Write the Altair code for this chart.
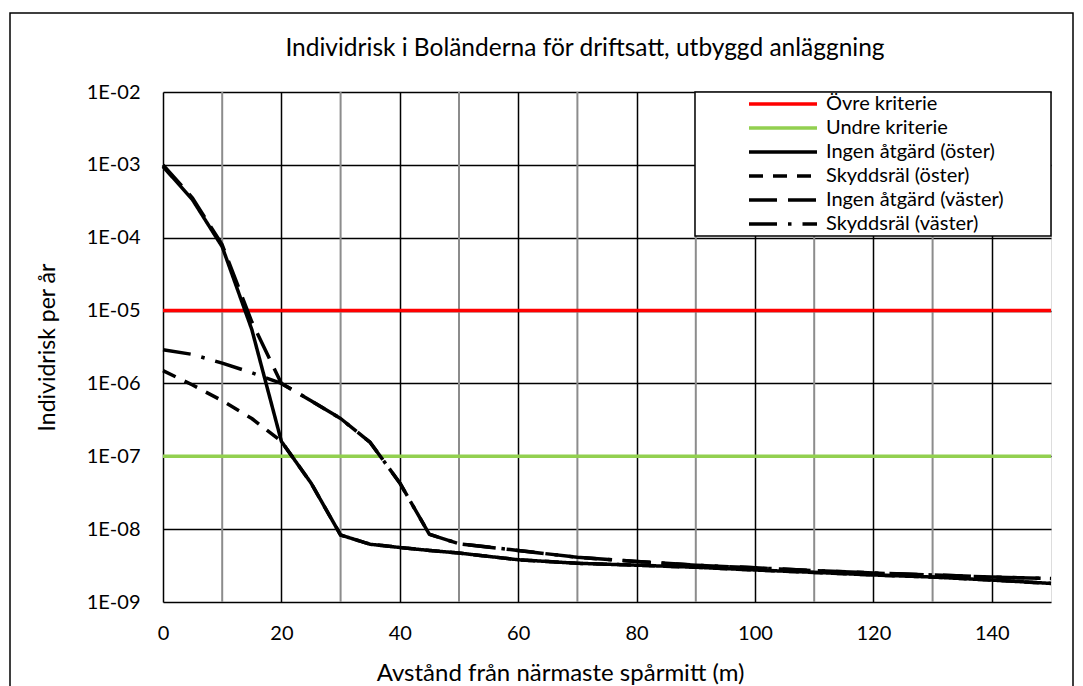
import altair as alt
import pandas as pd

# ---- data ----
x_dist = [0, 5, 10, 15, 20, 25, 30, 35, 40, 45, 50, 60, 70, 80, 90, 100, 110, 120, 130, 140, 150]

ingen_oster = [9.5e-4, 3.3e-4, 7.5e-5, 5.5e-6, 1.6e-7, 4.3e-8, 8.3e-9, 6.2e-9, 5.6e-9, 5.1e-9, 4.7e-9,
               3.8e-9, 3.4e-9, 3.2e-9, 3.0e-9, 2.75e-9, 2.55e-9, 2.35e-9, 2.2e-9, 2.0e-9, 1.8e-9]
skydd_oster = [1.5e-6, 9.5e-7, 5.8e-7, 3.3e-7, 1.6e-7, 4.3e-8, 8.3e-9, 6.2e-9, 5.6e-9, 5.1e-9, 4.7e-9,
               3.8e-9, 3.4e-9, 3.2e-9, 3.0e-9, 2.75e-9, 2.55e-9, 2.35e-9, 2.2e-9, 2.0e-9, 1.8e-9]
ingen_vaster = [1.0e-3, 3.5e-4, 8.0e-5, 7.0e-6, 1.0e-6, 5.8e-7, 3.3e-7, 1.55e-7, 4.3e-8, 8.5e-9, 6.3e-9,
                5.1e-9, 4.1e-9, 3.6e-9, 3.2e-9, 2.95e-9, 2.7e-9, 2.5e-9, 2.35e-9, 2.2e-9, 2.1e-9]
skydd_vaster = [2.9e-6, 2.5e-6, 1.9e-6, 1.4e-6, 1.0e-6, 5.8e-7, 3.3e-7, 1.55e-7, 4.3e-8, 8.5e-9, 6.3e-9,
                5.1e-9, 4.1e-9, 3.6e-9, 3.2e-9, 2.95e-9, 2.7e-9, 2.5e-9, 2.35e-9, 2.2e-9, 2.1e-9]

crit_x = [0, 150]
ovre_kriterie = [1e-5, 1e-5]
undre_kriterie = [1e-7, 1e-7]

series_names = ["Övre kriterie", "Undre kriterie", "Ingen åtgärd (öster)",
                "Skyddsräl (öster)", "Ingen åtgärd (väster)", "Skyddsräl (väster)"]
series_colors = ["#FF0000", "#92D050", "#000000", "#000000", "#000000", "#000000"]
series_dashes = [[1, 0], [1, 0], [1, 0], [14, 10], [28, 11], [28, 11, 3.5, 11]]

x_tick_values = [0, 20, 40, 60, 80, 100, 120, 140]
x_minor_grid = [10, 30, 50, 70, 90, 110, 130]
y_tick_values = [1e-9, 1e-8, 1e-7, 1e-6, 1e-5, 1e-4, 1e-3, 1e-2]

title_text = "Individrisk i Boländerna för driftsatt, utbyggd anläggning"
x_title = "Avstånd från närmaste spårmitt (m)"
y_title = "Individrisk per år"

# ---- tables ----
rows = []
for name, xs, ys in [
    (series_names[0], crit_x, ovre_kriterie),
    (series_names[1], crit_x, undre_kriterie),
    (series_names[2], x_dist, ingen_oster),
    (series_names[3], x_dist, skydd_oster),
    (series_names[4], x_dist, ingen_vaster),
    (series_names[5], x_dist, skydd_vaster),
]:
    for xv, yv in zip(xs, ys):
        rows.append({"x": xv, "risk": yv, "serie": name})
df = pd.DataFrame(rows)
grid_df = pd.DataFrame({"x": x_minor_grid})

FONT = "Lato"

x_enc = alt.X(
    "x:Q",
    scale=alt.Scale(domain=[0, 150], nice=False, zero=False),
    axis=alt.Axis(
        values=x_tick_values, title=x_title, grid=True, gridColor="black", gridWidth=1.5,
        ticks=False, tickSize=0, domain=False, labelFlush=False, labelOverlap=False,
        labelFont=FONT, labelFontSize=20, labelColor="black", labelPadding=31,
        labelBaseline="middle",
        titleFont=FONT, titleFontSize=24, titleFontWeight="normal", titleColor="black",
        titleX=397, titleY=78, titleBaseline="alphabetic", titleAlign="center",
    ),
)

y_enc = alt.Y(
    "risk:Q",
    scale=alt.Scale(type="log", domain=[1e-9, 1e-2], nice=False),
    axis=alt.Axis(
        values=y_tick_values,
        labelExpr="'1E-' + (abs(round(log(datum.value)/LN10)) < 10 ? '0' : '') + abs(round(log(datum.value)/LN10))",
        title=y_title, grid=True, gridColor="black", gridWidth=1.5,
        ticks=False, tickSize=0, domain=False, labelOverlap=False,
        labelFont=FONT, labelFontSize=20, labelColor="black", labelPadding=23,
        titleFont=FONT, titleFontSize=23, titleFontWeight="normal", titleColor="black",
        titleX=-116, titleY=255, titleAngle=270, titleBaseline="middle", titleAlign="center",
    ),
)

legend = alt.Legend(
    orient="none", legendX=584, legendY=1, title=None,
    symbolType="stroke", symbolSize=4624, symbolStrokeWidth=3.5,
    clipHeight=22, rowPadding=2, padding=0,
    labelFont=FONT, labelFontSize=20, labelColor="black", labelOffset=7, labelLimit=400,
)

minor_grid = alt.Chart(grid_df).mark_rule(color="#8C8C8C", strokeWidth=2).encode(x=x_enc)

lines = alt.Chart(df).mark_line(strokeWidth=3.5, strokeCap="butt", strokeJoin="round").encode(
    x=x_enc,
    y=y_enc,
    color=alt.Color("serie:N", scale=alt.Scale(domain=series_names, range=series_colors), legend=legend),
    strokeDash=alt.StrokeDash("serie:N", scale=alt.Scale(domain=series_names, range=series_dashes), legend=legend),
)

legend_box = alt.Chart(alt.Data(values=[{}])).mark_rect(
    fill="white", stroke="black", strokeWidth=1.5
).encode(x=alt.value(532), x2=alt.value(888), y=alt.value(0), y2=alt.value(144))

frame = alt.Chart(alt.Data(values=[{}])).mark_rect(
    fill=None, fillOpacity=0, stroke="black", strokeWidth=1.5
).encode(x=alt.value(-153), x2=alt.value(910), y=alt.value(-79), y2=alt.value(640))

chart = alt.layer(minor_grid, lines, legend_box, frame).properties(
    width=888, height=510,
    title=alt.TitleParams(text=title_text, font=FONT, fontSize=24.5, fontWeight="normal",
                          color="black", anchor="middle", frame="group", dx=-22, offset=0,
                          dy=68, baseline="alphabetic"),
    autosize=alt.AutoSizeParams(type="none"),
    padding={"left": 155, "top": 84, "right": 24, "bottom": 84},
).configure_view(stroke="black", strokeWidth=2).configure(background="white", font=FONT)

chart.save("out.html", embed_options={"renderer": "svg", "actions": False})
